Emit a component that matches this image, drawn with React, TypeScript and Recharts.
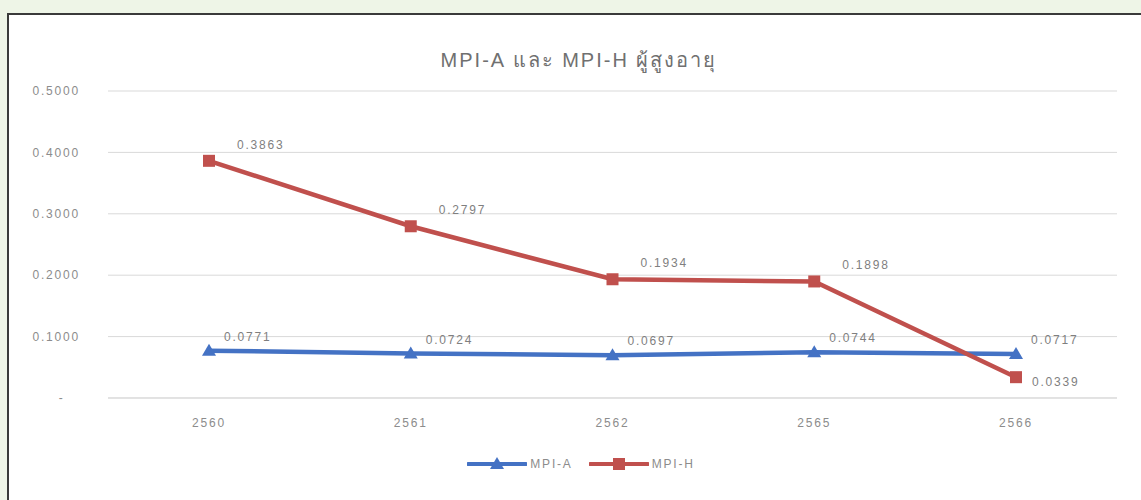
import React from "react"
import {
  LineChart, Line, XAxis, YAxis, CartesianGrid, Legend, LabelList,
} from "recharts"

const years = ["2560", "2561", "2562", "2565", "2566"]
const mpiA = [0.0771, 0.0724, 0.0697, 0.0744, 0.0717]
const mpiH = [0.3863, 0.2797, 0.1934, 0.1898, 0.0339]
const yTicks = [0, 0.1, 0.2, 0.3, 0.4, 0.5]

const data = years.map((y, i) => ({ year: y, a: mpiA[i], h: mpiH[i] }))

const BLUE = "#4472c4"
const RED = "#c0504d"
const FONT = "'Liberation Sans', Arial, 'Noto Sans', sans-serif"
const txt = { fontFamily: FONT, fontSize: 12, letterSpacing: 1.8 }

function fmtY(v: number): string {
  if (v === 0) return "-\u00A0\u00A0\u00A0"
  return v.toFixed(4)
}

function Triangle(props: any) {
  const { cx, cy } = props
  if (cx == null || cy == null) return null
  return (
    <path
      d={`M${cx},${cy - 7} L${cx + 7},${cy + 5} L${cx - 7},${cy + 5} Z`}
      fill={BLUE}
    />
  )
}

function Square(props: any) {
  const { cx, cy } = props
  if (cx == null || cy == null) return null
  return <rect x={cx - 6} y={cy - 6} width={12} height={12} fill={RED} />
}

function labelA(props: any) {
  const { x, y, value } = props
  return (
    <text x={x + 15} y={y - 10} fill="#7f7f7f" style={txt} textAnchor="start">
      {Number(value).toFixed(4)}
    </text>
  )
}

function labelH(props: any) {
  const { x, y, value, index } = props
  const below = mpiH[index] < mpiA[index]
  return (
    <text
      x={x + (below ? 16 : 28)}
      y={below ? y + 9 : y - 12}
      fill="#7f7f7f"
      style={txt}
      textAnchor="start"
    >
      {Number(value).toFixed(4)}
    </text>
  )
}

function LegendBox() {
  const items = [
    { name: "MPI-A", color: BLUE, tri: true },
    { name: "MPI-H", color: RED, tri: false },
  ]
  return (
    <div style={{ display: "flex", justifyContent: "center", gap: 12 }}>
      {items.map((it) => (
        <div key={it.name} style={{ display: "flex", alignItems: "center", marginLeft: 4 }}>
          <svg width={60} height={16}>
            <line x1={1} y1={8} x2={59} y2={8} stroke={it.color} strokeWidth={4} strokeLinecap="round" />
            {it.tri ? (
              <path d="M30,1 L37,13 L23,13 Z" fill={it.color} />
            ) : (
              <rect x={24} y={2} width={12} height={12} fill={it.color} />
            )}
          </svg>
          <span style={{ ...txt, color: "#8c8c8c", marginLeft: 3 }}>{it.name}</span>
        </div>
      ))}
    </div>
  )
}

export default function App() {
  return (
    <div style={{ position: "fixed", left: 0, top: 0, width: 1141, height: 500, background: "#eef5e7", overflow: "hidden" }}>
      <div
        style={{
          position: "absolute", left: 7, top: 13, width: 1140, height: 500,
          background: "#fff", borderTop: "2px solid #3a3a3a", borderLeft: "2px solid #3a3a3a",
        }}
      />
      <div
        style={{
          position: "absolute", left: 0, top: 44, width: 1158, textAlign: "center",
          fontFamily: FONT, fontSize: 20, letterSpacing: 2, color: "#707070",
        }}
      >
        MPI-A และ MPI-H ผู้สูงอายุ
      </div>
      <div style={{ position: "absolute", left: 0, top: 0 }}>
        <LineChart width={1141} height={500} data={data} margin={{ top: 91, right: 24, bottom: 62, left: 8 }}>
          <CartesianGrid vertical={false} stroke="#d9d9d9" />
          <XAxis
            dataKey="year"
            height={40}
            padding={{ left: 101, right: 101 }}
            tickLine={false}
            axisLine={{ stroke: "#d9d9d9" }}
            tickSize={0}
            tickMargin={20}
            tick={{ ...txt, fill: "#8c8c8c" }}
          />
          <YAxis
            width={100}
            domain={[0, 0.5]}
            ticks={yTicks}
            tickFormatter={fmtY}
            axisLine={false}
            tickLine={false}
            tickSize={0}
            tickMargin={28}
            tick={{ ...txt, fill: "#8c8c8c" }}
          />
          <Legend
            verticalAlign="middle"
            wrapperStyle={{ top: 456, left: 0, width: 1158 }}
            content={() => <LegendBox />}
          />
          <Line
            dataKey="a"
            name="MPI-A"
            stroke={BLUE}
            strokeWidth={4.5}
            dot={<Triangle />}
            activeDot={false}
            isAnimationActive={false}
          >
            <LabelList dataKey="a" content={labelA} />
          </Line>
          <Line
            dataKey="h"
            name="MPI-H"
            stroke={RED}
            strokeWidth={4.5}
            dot={<Square />}
            activeDot={false}
            isAnimationActive={false}
          >
            <LabelList dataKey="h" content={labelH} />
          </Line>
        </LineChart>
      </div>
    </div>
  )
}
